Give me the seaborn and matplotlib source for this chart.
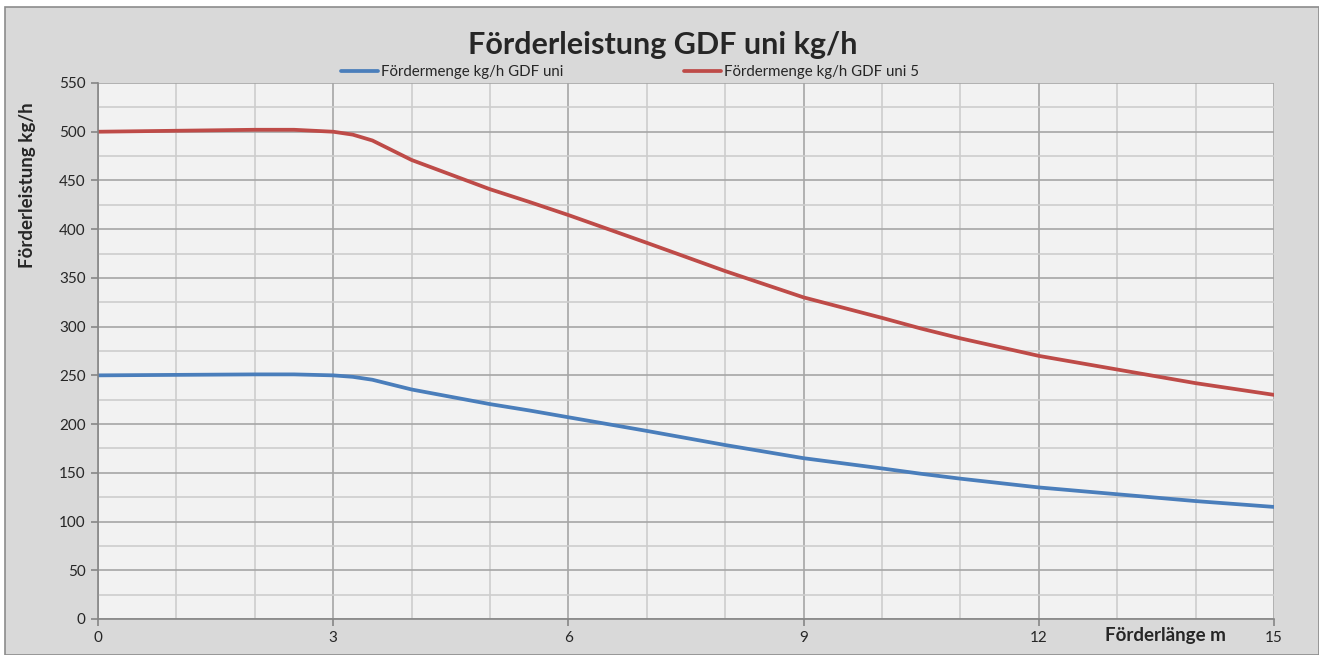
import matplotlib
matplotlib.use("Agg")
import matplotlib.pyplot as plt
import matplotlib.patches as mpatches
from matplotlib.ticker import MultipleLocator
import pandas as pd
import seaborn as sns

# Förderlänge in m
laenge = [0, 1, 2, 2.5, 3, 3.25, 3.5, 3.75, 4, 4.5, 5, 5.5, 6, 7, 8, 9, 10, 10.5, 11, 12, 13, 14, 15]
# Fördermenge kg/h GDF uni
gdf_uni = [250, 250.5, 251, 251, 250, 248.5, 245.5, 240.5, 235.5, 228, 220.5, 214, 207, 193, 178.5, 165, 154.5, 149, 144, 135, 128, 121, 115]
# Fördermenge kg/h GDF uni 5
gdf_uni5 = [500, 501, 502, 502, 500, 497, 491, 481, 471, 456, 441, 428, 414.5, 386, 357, 330, 309, 298, 288, 270, 256, 242, 230]

BLUE = "#4A7EBB"
RED = "#BE4B48"

df = pd.DataFrame({"laenge": laenge, "uni": gdf_uni, "uni5": gdf_uni5})

sns.set_style("white")
plt.rcParams["font.family"] = ["Lato", "DejaVu Sans"]

fig = plt.figure(figsize=(13.19, 6.55), dpi=100)
fig.patch.set_facecolor("white")
# chart area frame like in the spreadsheet
fig.patches.append(mpatches.Rectangle((5 / 1319, 0), 1 - 5 / 1319, 1 - 7 / 655,
                                      transform=fig.transFigure, facecolor="#D9D9D9",
                                      edgecolor="#8C8C8C", linewidth=1.2, zorder=-10))

ax = fig.add_axes([98 / 1319, 36 / 655, 1176 / 1319, 536 / 655])
ax.set_facecolor("#F2F2F2")

sns.lineplot(x="laenge", y="uni", data=df, color=BLUE, linewidth=2.7, ax=ax,
             label="Fördermenge kg/h GDF uni", legend=False)
sns.lineplot(x="laenge", y="uni5", data=df, color=RED, linewidth=2.7, ax=ax,
             label="Fördermenge kg/h GDF uni 5", legend=False)

ax.set_xlim(0, 15)
ax.set_ylim(0, 550)
ax.xaxis.set_major_locator(MultipleLocator(3))
ax.xaxis.set_minor_locator(MultipleLocator(1))
ax.yaxis.set_major_locator(MultipleLocator(50))
ax.yaxis.set_minor_locator(MultipleLocator(25))
ax.grid(which="major", color="#A6A6A6", linewidth=1.2, zorder=0)
ax.grid(which="minor", color="#CDCDCD", linewidth=1.2, zorder=0)
ax.set_axisbelow(True)

for side in ["top", "right"]:
    ax.spines[side].set_visible(False)
for side in ["left", "bottom"]:
    ax.spines[side].set_color("#868686")
    ax.spines[side].set_linewidth(1.2)

ax.tick_params(which="major", direction="out", length=5, width=1.2, color="#868686",
               labelsize=11, pad=4)
ax.tick_params(which="minor", length=0)
ax.tick_params(axis="y", left=True)
ax.tick_params(axis="x", bottom=True)

ax.set_xlabel("")
ax.set_ylabel("")
fig.text(28 / 1319, 1 - 185 / 655, "Förderleistung kg/h", rotation=90, ha="center", va="center",
         fontsize=13.5, fontweight="bold")
fig.text(1165 / 1319, 19 / 655, "Förderlänge m", ha="center", va="center",
         fontsize=13.5, fontweight="bold")
fig.text(663 / 1319, 1 - 45 / 655, "Förderleistung GDF uni kg/h", ha="center", va="center",
         fontsize=22, fontweight="bold")

handles, labels = ax.get_legend_handles_labels()
fig.legend(handles, labels, loc="center", bbox_to_anchor=(630 / 1319, 1 - 72 / 655), ncol=2,
           frameon=False, fontsize=10.8, handlelength=2.5, handletextpad=0.2,
           columnspacing=8.0, borderpad=0)

fig.savefig("out.png", dpi=100)
